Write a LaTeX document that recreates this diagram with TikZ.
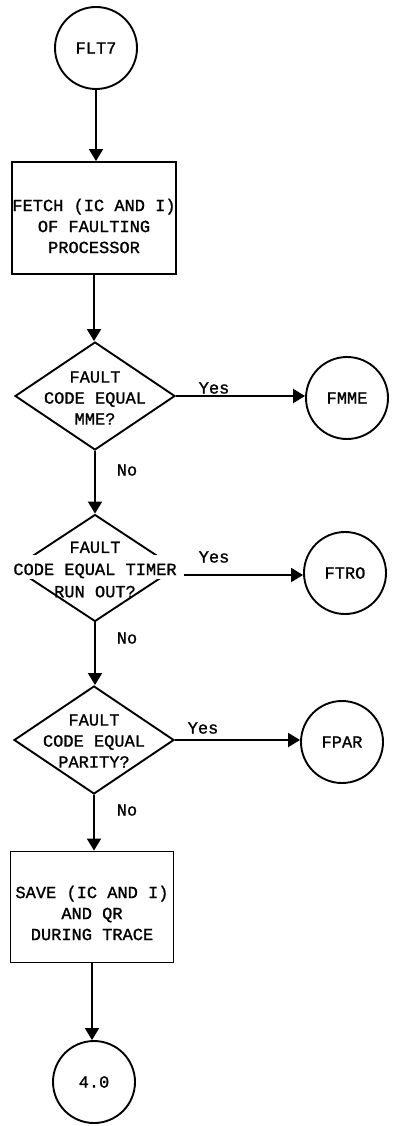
\documentclass[tikz,border=0pt]{standalone}
\usepackage{fontspec}
\setmainfont{Liberation Mono}[FakeBold=1.2]
\usetikzlibrary{positioning,shapes.geometric,arrows.meta}
\tikzset{
  % --- chart shapes ----------------------------------------------------------
  term/.style={circle,draw,minimum size=82pt,inner sep=0pt},
  proc/.style={rectangle,draw,minimum width=164pt,minimum height=112pt,
               inner sep=0pt},
  dec/.style={diamond,draw,minimum width=160pt,minimum height=108pt,
              inner sep=0pt},
  % --- texts -----------------------------------------------------------------
  txt/.style={align=center,inner sep=0pt},
  gap/.style={txt,fill=white,inner xsep=4pt,inner ysep=1pt,
              text height=19pt,text depth=3pt},   % breaks the diamond's sides
  lab/.style={inner sep=0pt},
  % --- flow lines ------------------------------------------------------------
  flow/.style={-{Triangle[length=12pt,width=14pt]}},
}

\begin{document}
\begin{tikzpicture}[x=1pt,y=-1pt,line width=1.9pt,
                    font=\fontsize{17}{21}\selectfont]
  \useasboundingbox (0,0) rectangle (392,1126);

  % main column
  \node[term] (c0) at (96,48) {FLT7};
  \node[proc] (b1) at (94,218) {};
  \node[txt] (b1t) at ([yshift=-8pt]b1.center)
    {FETCH (IC AND I)\\OF FAULTING\\PROCESSOR};
  \node[dec] (d1) at (95,396) {};
  \node[txt] (d1t) at ([yshift=-2pt]d1.center) {FAULT\\CODE EQUAL\\MME?};
  \node[dec,minimum width=162pt,minimum height=107pt] (d2) at (95,568) {};
  \node[gap] (d2m) at (95,567) {CODE EQUAL TIMER};
  \node[txt,above=0pt of d2m] (d2a) {FAULT};
  \node[txt,below=5pt of d2m] (d2b) {RUN OUT?};
  \node[dec] (d3) at (94,740) {};
  \node[txt] (d3t) at ([yshift=-1pt]d3.center) {FAULT\\CODE EQUAL\\PARITY?};
  \node[proc,minimum width=163pt,minimum height=111pt] (b2) at (92,907) {};
  \node[txt] (b2t) at ([yshift=-6pt]b2.center)
    {SAVE (IC AND I)\\AND QR\\DURING TRACE};
  \node[term] (c4) at (94,1082) {4.0};

  % exits
  \node[term] (m1) at (347,398) {FMME};
  \node[term] (m2) at (345,573) {FTRO};
  \node[term] (m3) at (342,742) {FPAR};

  % branch labels
  \node[lab] (y1) at (214,388) {Yes};
  \node[lab] (y2) at (214,557) {Yes};
  \node[lab] (y3) at (203,728) {Yes};
  \node[lab] (n1) at (127,470) {No};
  \node[lab] (n2) at (127,638) {No};
  \node[lab] (n3) at (127,810) {No};

  % flow lines
  \draw[flow] (c0.south) -- (c0.south |- b1.north);
  \draw[flow] (b1.south) -- (b1.south |- d1.north);
  \draw[flow] (d1.south) -- (d1.south |- d2.north);
  \draw[flow] (d2.south) -- (d2.south |- d3.north);
  \draw[flow] (d3.south) -- (d3.south |- b2.north);
  \draw[flow] (b2.south) -- (b2.south |- c4.north);
  \draw[flow] (d1.east) -- (d1.east -| m1.west);
  \draw[flow,shorten <=2pt] (d2m.base east) -- (d2m.base east -| m2.west);
  \draw[flow] (d3.east) -- (d3.east -| m3.west);
\end{tikzpicture}
\end{document}
